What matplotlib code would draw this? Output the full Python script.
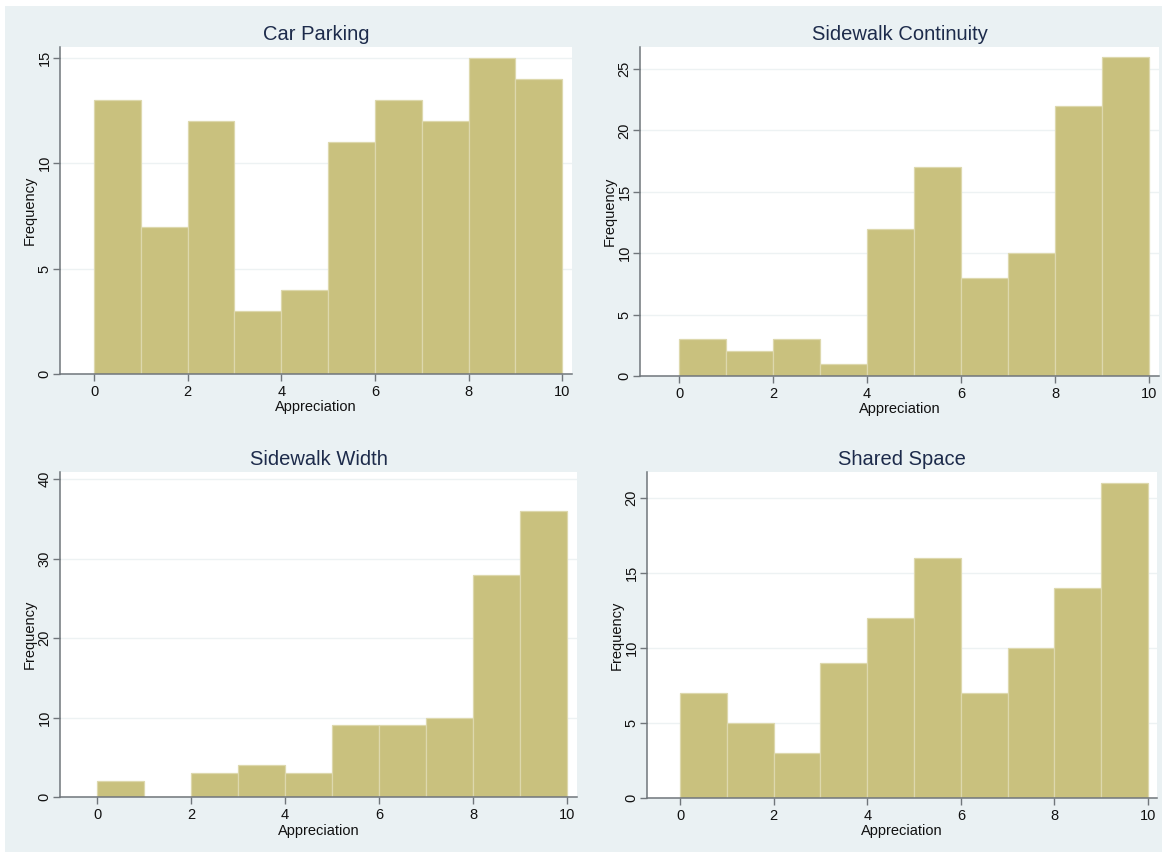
import matplotlib
matplotlib.use("Agg")
import matplotlib.pyplot as plt
from matplotlib.patches import Rectangle

plt.rcParams['font.family'] = ['Liberation Sans', 'DejaVu Sans']

# Histogram data: unit-width bins on the 0-10 appreciation scale
bin_edges = [0, 1, 2, 3, 4, 5, 6, 7, 8, 9, 10]
titles = ["Car Parking", "Sidewalk Continuity", "Sidewalk Width", "Shared Space"]
car_parking = [13, 7, 12, 3, 4, 11, 13, 12, 15, 14]
sidewalk_continuity = [3, 2, 3, 1, 12, 17, 8, 10, 22, 26]
sidewalk_width = [2, 0, 3, 4, 3, 9, 9, 10, 28, 36]
shared_space = [7, 5, 3, 9, 12, 16, 7, 10, 14, 21]
x_ticks = [0, 2, 4, 6, 8, 10]
y_ticks_car = [0, 5, 10, 15]
y_ticks_cont = [0, 5, 10, 15, 20, 25]
y_ticks_width = [0, 10, 20, 30, 40]
y_ticks_shared = [0, 5, 10, 15, 20]

W, H = 1169, 852
fig = plt.figure(figsize=(W / 100, H / 100), dpi=100, facecolor='white')

BG = '#eaf1f3'
BAR = '#c9c17e'
BAR_EDGE = '#ddd8ad'
AXIS = '#70767b'
TITLE = '#1d2b4b'

# Graph-region background, kept beneath every axes
fig.patches.append(Rectangle((5 / W, 0), (1162 - 5) / W, (852 - 6) / H,
                             transform=fig.transFigure, facecolor=BG,
                             edgecolor='none', zorder=-10))

panels = [
    # (pixel box left, right, top, bottom), xlim, ylim, counts, yticks
    ((60, 572, 47, 374), (-0.727, 10.21), (0, 15.52), car_parking, y_ticks_car),
    ((640, 1159, 47, 376), (-0.83, 10.21), (0, 26.79), sidewalk_continuity, y_ticks_cont),
    ((60, 577, 472, 797), (-0.79, 10.21), (0, 40.9), sidewalk_width, y_ticks_width),
    ((647, 1157, 472, 798), (-0.705, 10.19), (0, 21.72), shared_space, y_ticks_shared),
]

for (box, xlim, ylim, counts, yticks), title in zip(panels, titles):
    l, r, t, b = box
    ax = fig.add_axes([l / W, 1 - b / H, (r - l) / W, (b - t) / H], zorder=1)
    ax.set_facecolor('white')
    ax.bar(bin_edges[:-1], counts, width=1, align='edge', color=BAR,
           edgecolor=BAR_EDGE, linewidth=0.9, zorder=3)
    ax.set_xlim(*xlim)
    ax.set_ylim(*ylim)
    ax.set_xticks(x_ticks)
    ax.set_yticks(yticks)
    ax.yaxis.grid(True, color='#edf2f3', linewidth=1.0, zorder=0)
    ax.set_axisbelow(True)
    for side in ('top', 'right'):
        ax.spines[side].set_visible(False)
    for side in ('left', 'bottom'):
        ax.spines[side].set_color(AXIS)
        ax.spines[side].set_linewidth(1.1)
        ax.spines[side].set_zorder(4)
    ax.tick_params(axis='x', direction='out', length=5, width=1,
                   color=AXIS, labelsize=10.5, labelcolor='#111111', pad=3)
    ax.tick_params(axis='y', direction='out', length=5, width=1,
                   color=AXIS, labelsize=10.5, labelcolor='#111111', pad=1)
    for lab in ax.get_yticklabels():
        lab.set_rotation(90)
        lab.set_va('center')
    ax.set_xlabel('Appreciation', fontsize=10.5, color='#111111', labelpad=1)
    ax.set_ylabel('Frequency', fontsize=10.5, color='#111111', labelpad=1)
    ax.set_title(title, fontsize=14.5, color=TITLE, pad=5)

fig.savefig('out.png', dpi=100, facecolor='white')
